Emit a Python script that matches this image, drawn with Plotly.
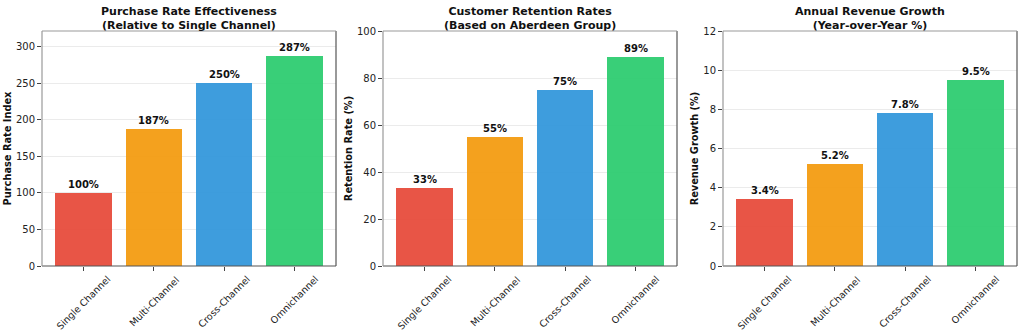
import plotly.graph_objects as go

categories = ["Single Channel", "Multi-Channel", "Cross-Channel", "Omnichannel"]
colors = ["#e74c3c", "#f39c12", "#3498db", "#2ecc71"]

purchase_index = [100, 187, 250, 287]
retention_rate = [33, 55, 75, 89]
revenue_growth = [3.4, 5.2, 7.8, 9.5]

purchase_labels = ["100%", "187%", "250%", "287%"]
retention_labels = ["33%", "55%", "75%", "89%"]
growth_labels = ["3.4%", "5.2%", "7.8%", "9.5%"]

titles = [
    "Purchase Rate Effectiveness<br>(Relative to Single Channel)",
    "Customer Retention Rates<br>(Based on Aberdeen Group)",
    "Annual Revenue Growth<br>(Year-over-Year %)",
]
ylabels = ["Purchase Rate Index", "Retention Rate (%)", "Revenue Growth (%)"]
yranges = [[0, 287 * 1.12], [0, 100], [0, 12]]
ydtick = [50, 20, 2]

panels = [
    (purchase_index, purchase_labels),
    (retention_rate, retention_labels),
    (revenue_growth, growth_labels),
]

FONT = "DejaVu Sans"
W, H = 1024, 335
x_domains = [(42 / W, 336 / W), (383 / W, 677 / W), (723 / W, 1017 / W)]
y_domain = ((H - 266) / H, (H - 31) / H)

fig = go.Figure()
annotations = []
shapes = []

for i, (values, labels) in enumerate(panels):
    n = "" if i == 0 else str(i + 1)
    xa, ya = "x" + n, "y" + n
    fig.add_trace(go.Bar(
        x=list(range(len(categories))), y=values,
        marker=dict(color=colors, opacity=0.95, line=dict(width=0)),
        width=0.8, xaxis=xa, yaxis=ya, showlegend=False,
        hoverinfo="skip",
    ))
    fig.layout["xaxis" + n] = dict(
        domain=list(x_domains[i]), range=[-0.59, 3.59],
        tickvals=list(range(len(categories))), showticklabels=False,
        ticks="outside", ticklen=4, tickcolor="#444", tickwidth=1,
        showgrid=False, zeroline=False, showline=False, automargin=False,
        anchor=ya, fixedrange=True,
    )
    fig.layout["yaxis" + n] = dict(
        domain=list(y_domain), range=yranges[i], dtick=ydtick[i], tick0=0,
        ticks="outside", ticklen=4, tickcolor="#444", tickwidth=1,
        tickfont=dict(family=FONT, size=10, color="#222"),
        showgrid=True, gridcolor="#ebebeb", gridwidth=1,
        zeroline=False, showline=False, anchor=xa, fixedrange=True,
        automargin=False,
        title=dict(text="<b>" + ylabels[i] + "</b>", standoff=2,
                   font=dict(family=FONT, size=9.8, color="#111")),
    )
    # value labels above each bar
    for k, (v, lab) in enumerate(zip(values, labels)):
        annotations.append(dict(
            x=k, y=v, xref=xa, yref=ya, text="<b>" + lab + "</b>",
            showarrow=False, xanchor="center", yanchor="bottom", yshift=1,
            font=dict(family=FONT, size=10, color="#111"),
        ))
    # rotated category labels centred under each tick
    for k, cat in enumerate(categories):
        annotations.append(dict(
            x=k, y=0, xref=xa, yref=ya + " domain", text=cat,
            showarrow=False, textangle=-45, xanchor="center", yanchor="top",
            yshift=-5, font=dict(family=FONT, size=9.5, color="#222"),
        ))
    # panel title
    annotations.append(dict(
        x=0.5, y=1, xref=xa + " domain", yref=ya + " domain",
        text="<b>" + titles[i] + "</b>", showarrow=False,
        xanchor="center", yanchor="bottom", yshift=-3,
        font=dict(family=FONT, size=11, color="#111"),
    ))
    # frame around the plotting area
    for (x0, y0, x1, y1, c) in [(0, 0, 1, 0, "#555"), (1, 0, 1, 1, "#555"),
                                (0, 0, 0, 1, "#999"), (0, 1, 1, 1, "#999")]:
        shapes.append(dict(type="line", xref=xa + " domain", yref=ya + " domain",
                           x0=x0, y0=y0, x1=x1, y1=y1,
                           line=dict(color=c, width=1.2), layer="above"))

fig.update_layout(
    width=W, height=H, margin=dict(l=0, r=0, t=0, b=0, autoexpand=False),
    paper_bgcolor="white", plot_bgcolor="white",
    annotations=annotations, shapes=shapes, bargap=0,
    font=dict(family=FONT),
)

fig.write_html("out.html", config={"displayModeBar": False})
